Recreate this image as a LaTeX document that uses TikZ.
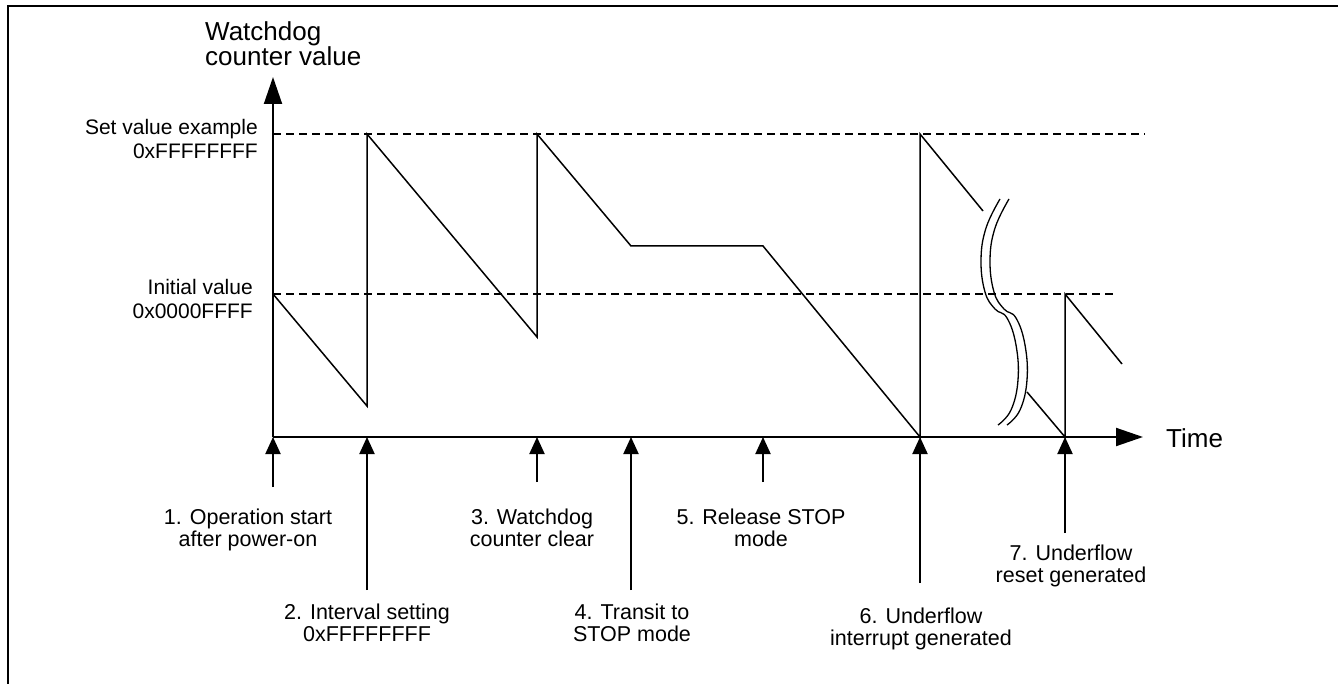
\documentclass[tikz,border=0pt]{standalone}
\usepackage{fontspec}
\setmainfont{Liberation Sans}
\usetikzlibrary{arrows.meta}
\begin{document}
\begin{tikzpicture}[x=1pt,y=-1pt,
  lbl/.style={font=\fontsize{21.5}{22}\selectfont, inner sep=0pt, align=center},
  vallbl/.style={font=\fontsize{21}{24}\selectfont, inner sep=0pt, align=right, anchor=east},
  axislbl/.style={font=\fontsize{26}{23}\selectfont, inner sep=0pt},
  wave/.style={line width=1.5pt, line join=miter},
  guide/.style={line width=1.6pt, dash pattern=on 8pt off 5pt},
  evt/.style={line width=2pt, -{Triangle[length=17pt,width=15pt]}},
  axis/.style={line width=2pt, -{Triangle[length=27pt,width=18pt]}}]
\useasboundingbox (0,0) rectangle (1338,684);

% frame
\draw[line width=2.2pt] (7.7,684) -- (7.7,5.7) -- (1338,5.7);

% axes
\coordinate (O) at (273,437);
\coordinate (ytip) at (273,77);
\coordinate (xtip) at (1143,437);
\draw[axis] (O) -- (ytip);
\draw[axis] (O) -- (xtip);
\node[axislbl, align=left, anchor=west] (ylab) at (205,44) {Watchdog\\counter value};
\node[axislbl, anchor=west] (xlab) at (1166,438) {Time};

% reference levels
\draw[guide] (273,134) -- (1145,134);
\draw[guide] (273,294) -- (1117,294);
\node[vallbl] (setv) at (258,139) {Set value example\\0xFFFFFFFF};
\node[vallbl] (initv) at (253,299) {Initial value\\0x0000FFFF};

% counter value over time
\draw[wave] (273,294) -- (367,406) -- (367,134) -- (537,337) -- (537,134)
  -- (631,246) -- (763,246) -- (920,437) -- (920,134) -- (983,211);
\draw[wave] (1027,392) -- (1065,437) -- (1065,294) -- (1122,364);

% time break mark
\foreach \dx in {0,9}{
  \draw[line width=1.3pt, xshift=\dx] plot[smooth, tension=0.7] coordinates
    {(1000,199) (986,228) (981,260) (985,292) (995,309) (1007,318)
     (1016,345) (1018,380) (1011,410) (998,425)};
}

% events on the time axis
\coordinate (t1) at (273,437);  \coordinate (s1) at (273,487);
\coordinate (t2) at (367,437);  \coordinate (s2) at (367,590);
\coordinate (t3) at (537,437);  \coordinate (s3) at (537,482);
\coordinate (t4) at (631,437);  \coordinate (s4) at (631,590);
\coordinate (t5) at (763,437);  \coordinate (s5) at (763,482);
\coordinate (t6) at (920,437);  \coordinate (s6) at (920,583);
\coordinate (t7) at (1065,437); \coordinate (s7) at (1065,533);
\foreach \i in {1,...,7}{ \draw[evt] (s\i) -- (t\i); }

\node[lbl] (e1) at (248,530) {1. Operation start\\after power-on};
\node[lbl] (e2) at (367,623) {2. Interval setting\\0xFFFFFFFF};
\node[lbl] (e3) at (532,528) {3. Watchdog\\counter clear};
\node[lbl] (e4) at (632,623) {4. Transit to\\STOP mode};
\node[lbl] (e5) at (761,528) {5. Release STOP\\mode};
\node[lbl] (e6) at (921,629) {6. Underflow\\interrupt generated};
\node[lbl] (e7) at (1071,566) {7. Underflow\\reset generated};
\end{tikzpicture}
\end{document}
